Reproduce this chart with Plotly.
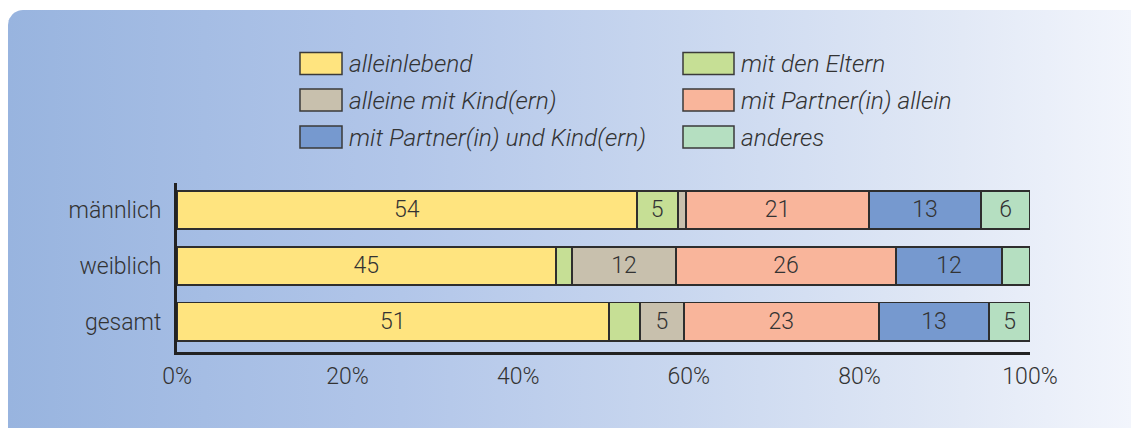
import math
import plotly.graph_objects as go

# ---------------- data ----------------
categories = ["männlich", "weiblich", "gesamt"]

series_names = [
    "alleinlebend",
    "mit den Eltern",
    "alleine mit Kind(ern)",
    "mit Partner(in) allein",
    "mit Partner(in) und Kind(ern)",
    "anderes",
]
series_colors = ["#ffe47f", "#c6df95", "#c8c0ad", "#f9b59b", "#7699cf", "#b5dfc1"]

alleinlebend = [53.9, 44.4, 50.6]
mit_den_eltern = [4.8, 1.9, 3.7]
alleine_mit_kind = [1.0, 12.2, 5.1]
partner_allein = [21.4, 25.8, 22.9]
partner_und_kind = [13.2, 12.4, 12.9]
anderes = [5.7, 3.3, 4.8]

labels_alleinlebend = ["54", "45", "51"]
labels_mit_den_eltern = ["5", "", ""]
labels_alleine_mit_kind = ["", "12", "5"]
labels_partner_allein = ["21", "26", "23"]
labels_partner_und_kind = ["13", "12", "13"]
labels_anderes = ["6", "", "5"]

x_tick_values = [0, 20, 40, 60, 80, 100]
x_tick_labels = ["0%", "20%", "40%", "60%", "80%", "100%"]

series_values = [alleinlebend, mit_den_eltern, alleine_mit_kind,
                 partner_allein, partner_und_kind, anderes]
series_labels = [labels_alleinlebend, labels_mit_den_eltern, labels_alleine_mit_kind,
                 labels_partner_allein, labels_partner_und_kind, labels_anderes]

# ---------------- figure ----------------
W, H = 1131, 428
FONT = "Roboto, 'Liberation Sans', Arial, sans-serif"
TXT = "#333333"
FS = 23

fig = go.Figure()

# background panel (rounded corner, horizontal gradient) on a full-figure pixel axis
r = 15
bx0, by0, bx1, by1 = 8, 10, 1200, 500
pts_x, pts_y = [], []
for k in range(0, 11):
    a = math.pi + k * (math.pi / 2) / 10
    pts_x.append(bx0 + r + r * math.cos(a))
    pts_y.append(by0 + r + r * math.sin(a))
pts_x += [bx1, bx1, bx0, bx0]
pts_y += [by0, by1, by1, by0 + r]
fig.add_trace(go.Scatter(
    x=pts_x, y=pts_y, mode="lines", fill="toself",
    line=dict(width=0, color="rgba(0,0,0,0)"),
    fillgradient=dict(type="horizontal",
                      colorscale=[[0, "#98b4df"], [0.35, "#b2c6e9"], [0.6, "#c9d7ef"],
                                  [0.85, "#e2e9f6"], [1, "#f2f5fc"]],
                      start=8, stop=1131),
    hoverinfo="skip", showlegend=False, xaxis="x", yaxis="y",
))

for name, color, vals, labs in zip(series_names, series_colors, series_values, series_labels):
    fig.add_trace(go.Bar(
        x=vals, y=categories, orientation="h", name=name,
        marker=dict(color=color, line=dict(color="#2e2e2e", width=1.8)),
        width=0.685,
        text=labs, textposition="inside", insidetextanchor="middle",
        textangle=0, constraintext="none",
        textfont=dict(family=FONT, size=FS, color=TXT, weight=300),
        hoverinfo="skip", showlegend=False,
        xaxis="x2", yaxis="y2",
    ))

# legend drawn as swatches + text
legend_cols = [(300, 342, 349), (683, 734, 741)]
legend_rows = [63.5, 100, 137]
shapes = []
annotations = []
for i, (name, color) in enumerate(zip(series_names, series_colors)):
    col = legend_cols[i % 2]
    yc = legend_rows[i // 2]
    shapes.append(dict(type="rect", xref="x", yref="y",
                       x0=col[0], x1=col[1], y0=yc - 11, y1=yc + 11,
                       fillcolor=color, line=dict(color="#3a3a3a", width=1.5),
                       layer="above"))
    annotations.append(dict(xref="x", yref="y", x=col[2] - 2, y=yc,
                            text=f"<i>{name}</i>", showarrow=False,
                            xanchor="left", yanchor="middle",
                            font=dict(family=FONT, size=24.5, color=TXT, weight=300)))

AX_L, AX_R, AX_T, AX_B = 177, 1030, 183, 352   # pixels of the bar plot area
fig.update_layout(
    width=W, height=H,
    margin=dict(l=0, r=0, t=0, b=0, autoexpand=False),
    paper_bgcolor="white", plot_bgcolor="rgba(0,0,0,0)",
    barmode="stack",
    font=dict(family=FONT, size=FS, color=TXT, weight=300),
    xaxis=dict(domain=[0, 1], range=[0, W], visible=False, fixedrange=True, automargin=False),
    yaxis=dict(domain=[0, 1], range=[H, 0], visible=False, fixedrange=True, automargin=False),
    xaxis2=dict(domain=[AX_L / W, AX_R / W], anchor="y2", range=[0, 100],
                tickmode="array", tickvals=x_tick_values, ticktext=x_tick_labels,
                showgrid=False, zeroline=False, ticks="", automargin=False,
                showline=True, linecolor="#222222", linewidth=3,
                tickfont=dict(family=FONT, size=FS, color=TXT, weight=300),
                ticklabelstandoff=1),
    yaxis2=dict(domain=[(H - AX_B) / H, (H - AX_T) / H], anchor="x2",
                categoryorder="array", categoryarray=categories[::-1],
                range=[-0.547, 2.484], automargin=False,
                showgrid=False, zeroline=False, ticks="",
                showline=True, linecolor="#222222", linewidth=3,
                tickfont=dict(family=FONT, size=FS, color=TXT, weight=300),
                ticklabelstandoff=8),
    shapes=shapes, annotations=annotations,
    showlegend=False,
)

fig.write_html("out.html", config={"displayModeBar": False},
               post_script="document.body.style.margin='0px';document.body.style.overflow='hidden';")
